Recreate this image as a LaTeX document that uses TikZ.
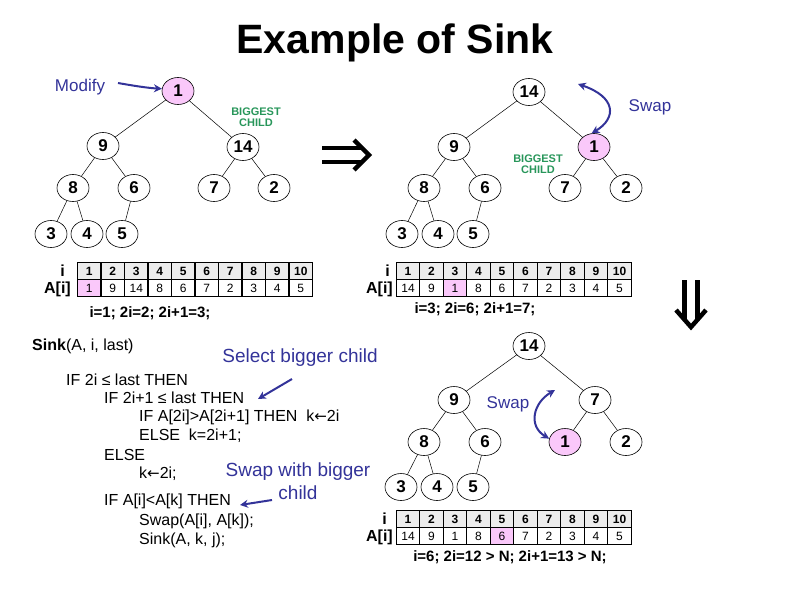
\documentclass[tikz,border=0pt]{standalone}
\usepackage{fontspec}
\setmainfont{Liberation Sans}
\newfontfamily\symfont{DejaVu Sans}
\usetikzlibrary{shapes.geometric,arrows.meta}
\definecolor{navy}{RGB}{51,51,153}
\definecolor{biggreen}{RGB}{40,150,90}
\definecolor{pinkfill}{RGB}{250,200,250}
\definecolor{hdrgray}{RGB}{236,236,236}
\newcommand\larr{{\symfont\fontsize{15}{15}\selectfont ←}}
\begin{document}
\begin{tikzpicture}[x=1pt,y=-1pt,
  hnode/.style={ellipse,draw,line width=0.6pt,minimum width=32pt,minimum height=27pt,inner sep=0pt,font=\fontsize{17}{17}\selectfont\bfseries},
  hot/.style={hnode,fill=pinkfill},
  edge/.style={line width=0.5pt},
  hcell/.style={rectangle,draw,line width=1.2pt,fill=hdrgray,minimum width=23.5pt,minimum height=17pt,inner sep=0pt,font=\fontsize{12}{12}\selectfont\bfseries},
  dcell/.style={rectangle,draw,line width=1.2pt,minimum width=23.5pt,minimum height=17pt,inner sep=0pt,font=\fontsize{12}{12}\selectfont},
  rowlab/.style={font=\fontsize{16}{16}\selectfont\bfseries,inner sep=0pt,anchor=east},
  status/.style={font=\fontsize{15}{15}\selectfont\bfseries,inner sep=0pt},
  code/.style={font=\fontsize{16}{16}\selectfont,inner sep=0pt,anchor=west},
  note/.style={text=navy,inner sep=0pt},
  bigg/.style={text=biggreen,font=\fontsize{11}{11}\selectfont\bfseries,align=center,inner sep=0pt},
  bluearrow/.style={draw=navy,line width=2pt,-{Stealth[length=8pt,width=8pt]}},
  bluedouble/.style={draw=navy,line width=2pt,{Stealth[length=8pt,width=8pt]}-{Stealth[length=8pt,width=8pt]}},
  fat/.style={line width=4.5pt}
]
\useasboundingbox (0,0) rectangle (794,595);

% title
\node[font=\fontsize{41}{41}\selectfont\bfseries,inner sep=0pt,anchor=base] (title) at (395,53) {Example of Sink};

% ---------- tree 1 ----------
\node[hot]   (a1)  at (178,91)  {1};
\node[hnode] (a2)  at (103,146) {9};
\node[hnode] (a3)  at (243,147) {14};
\node[hnode] (a4)  at (73,188)  {8};
\node[hnode] (a5)  at (134,188) {6};
\node[hnode] (a6)  at (214,188) {7};
\node[hnode] (a7)  at (274,188) {2};
\node[hnode] (a8)  at (51,234)  {3};
\node[hnode] (a9)  at (87,234)  {4};
\node[hnode] (a10) at (122,234) {5};

% ---------- tree 2 ----------
\begin{scope}[shift={(351,1)}]
\node[hnode] (b1)  at (178,91)  {14};
\node[hnode] (b2)  at (103,146) {9};
\node[hot]   (b3)  at (243,146) {1};
\node[hnode] (b4)  at (73,187)  {8};
\node[hnode] (b5)  at (134,187) {6};
\node[hnode] (b6)  at (214,187) {7};
\node[hnode] (b7)  at (275,187) {2};
\node[hnode] (b8)  at (51,233)  {3};
\node[hnode] (b9)  at (87,233)  {4};
\node[hnode] (b10) at (122,233) {5};
\end{scope}

% ---------- tree 3 ----------
\begin{scope}[shift={(351,255)}]
\node[hnode] (c1)  at (178,91)  {14};
\node[hnode] (c2)  at (103,145) {9};
\node[hnode] (c3)  at (244,145) {7};
\node[hnode] (c4)  at (73,187)  {8};
\node[hnode] (c5)  at (134,187) {6};
\node[hot]   (c6)  at (214,187) {1};
\node[hnode] (c7)  at (275,187) {2};
\node[hnode] (c8)  at (50,232)  {3};
\node[hnode] (c9)  at (86,232)  {4};
\node[hnode] (c10) at (122,232) {5};
\end{scope}

\foreach \p in {a,b,c}{
  \draw[edge] (\p1) -- (\p2);
  \draw[edge] (\p1) -- (\p3);
  \draw[edge] (\p2) -- (\p4);
  \draw[edge] (\p2) -- (\p5);
  \draw[edge] (\p3) -- (\p6);
  \draw[edge] (\p3) -- (\p7);
  \draw[edge] (\p4) -- (\p8);
  \draw[edge] (\p4) -- (\p9);
  \draw[edge] (\p5) -- (\p10);
}

% annotations tree 1
\node[note,font=\fontsize{17}{17}\selectfont] (modify) at (80,87) {Modify};
\coordinate (modA) at (118,83);
\draw[bluearrow] (modA) .. controls (135,86) and (148,88) .. (a1.172);
\node[bigg] (big1) at (256,117) {BIGGEST\\CHILD};

% big right arrow
\draw[fat] (322,148) -- (361,148);
\draw[fat] (322,162) -- (361,162);
\draw[fat,line join=miter] (354,140) -- (369,155) -- (354,170);

% annotations tree 2
\node[bigg] (big2) at (538,164) {BIGGEST\\CHILD};
\node[note,font=\fontsize{17}{17}\selectfont] (swap1) at (650,107) {Swap};
\coordinate (swA) at (578,84);
\draw[bluedouble] (swA) .. controls (616,97) and (617,118) .. (b3.100);

% ---------- table 1 ----------
\node[rowlab] (t1i) at (65,271) {i};
\node[rowlab] (t1a) at (71,289) {A[i]};
\foreach \v [count=\k] in {1,...,10}
  \node[hcell] (t1h\k) at ({89.25+23.5*(\k-1)},271) {\v};
\foreach \v/\f [count=\k] in {1/pinkfill,9/white,14/white,8/white,6/white,7/white,2/white,3/white,4/white,5/white}
  \node[dcell,fill=\f] (t1d\k) at ({89.25+23.5*(\k-1)},288) {\v};
\node[status] (s1) at (150,313) {i=1; 2i=2; 2i+1=3;};

% ---------- table 2 ----------
\node[rowlab] (t2i) at (390,271) {i};
\node[rowlab] (t2a) at (393,289) {A[i]};
\foreach \v [count=\k] in {1,...,10}
  \node[hcell] (t2h\k) at ({408+23.5*(\k-1)},271) {\v};
\foreach \v/\f [count=\k] in {14/white,9/white,1/pinkfill,8/white,6/white,7/white,2/white,3/white,4/white,5/white}
  \node[dcell,fill=\f] (t2d\k) at ({408+23.5*(\k-1)},288) {\v};
\node[status] (s2) at (475,309) {i=3; 2i=6; 2i+1=7;};

% big down arrow
\draw[fat] (684.5,280) -- (684.5,319);
\draw[fat] (697.5,280) -- (697.5,319);
\draw[fat,line join=miter] (676,310) -- (691,327) -- (706,310);

% ---------- code ----------
\node[code] (L0) at (32,346) {\textbf{Sink}(A, i, last)};
\node[code] (L1) at (66,380) {IF 2i ≤ last THEN};
\node[code] (L2) at (104,398) {IF 2i+1 ≤ last THEN};
\node[code] (L3) at (139,417) {IF A[2i]>A[2i+1] THEN\ \ k\larr2i};
\node[code] (L4) at (139,436) {ELSE\ \ k=2i+1;};
\node[code] (L5) at (104,455) {ELSE};
\node[code] (L6) at (139,474) {k\larr2i;};
\node[code] (L7) at (104,501) {IF A[i]<A[k] THEN};
\node[code] (L8) at (139,521) {Swap(A[i], A[k]);};
\node[code] (L9) at (139,540) {Sink(A, k, j);};

\node[note,font=\fontsize{19}{19}\selectfont] (sel) at (300,358) {Select bigger child};
\coordinate (selA) at (292,379);
\coordinate (selB) at (258,399);
\draw[bluearrow] (selA) -- (selB);

\node[note,font=\fontsize{19}{23}\selectfont,align=center] (swb) at (298,481) {Swap with bigger\\child};
\coordinate (swbA) at (272,500);
\coordinate (swbB) at (240,505);
\draw[bluearrow] (swbA) -- (swbB);

% annotations tree 3
\node[note,font=\fontsize{17}{17}\selectfont] (swap2) at (508,404) {Swap};
\coordinate (sw2A) at (555,390);
\draw[bluedouble] (sw2A) .. controls (533,403) and (528,426) .. (c6.168);

% ---------- table 3 ----------
\node[rowlab] (t3i) at (387,519) {i};
\node[rowlab] (t3a) at (393,537) {A[i]};
\foreach \v [count=\k] in {1,...,10}
  \node[hcell] (t3h\k) at ({408+23.5*(\k-1)},519) {\v};
\foreach \v/\f [count=\k] in {14/white,9/white,1/white,8/white,6/pinkfill,7/white,2/white,3/white,4/white,5/white}
  \node[dcell,fill=\f] (t3d\k) at ({408+23.5*(\k-1)},536) {\v};
\node[status] (s3) at (510,557) {i=6; 2i=12 > N; 2i+1=13 > N;};

\end{tikzpicture}
\end{document}
